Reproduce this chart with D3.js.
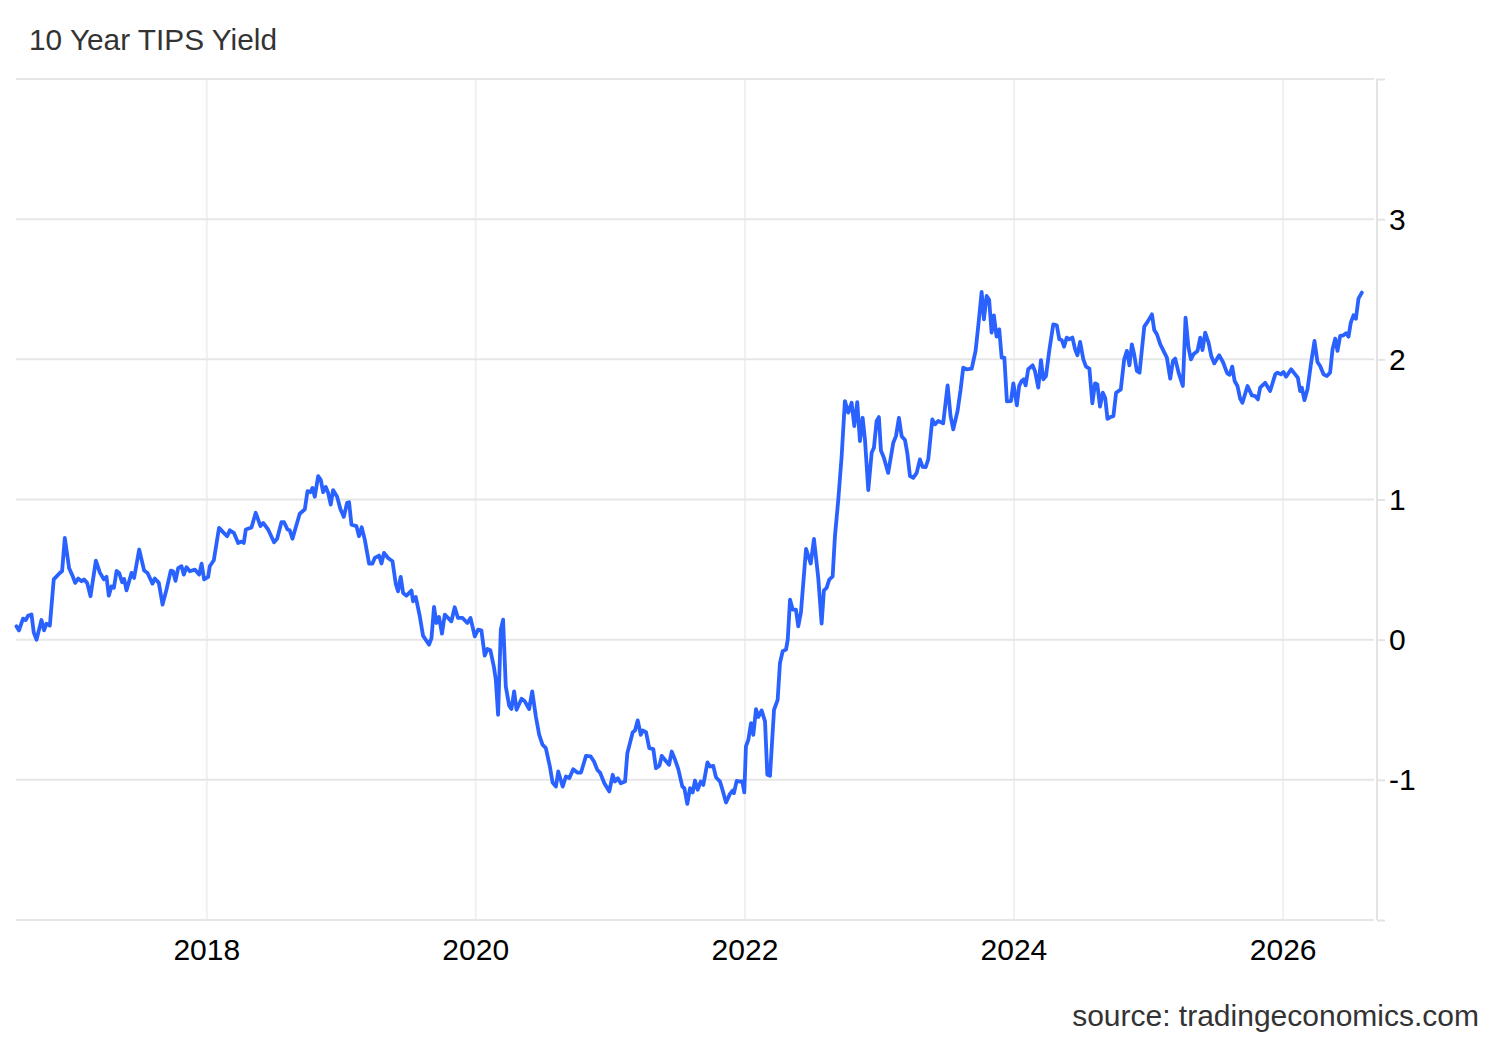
<!DOCTYPE html>
<html>
<head>
<meta charset="utf-8">
<script src="https://cdn.jsdelivr.net/npm/d3@7"></script>
<style>
  body { margin: 0; background: #fff; }
  text { font-family: "Liberation Sans", Arial, sans-serif; }
</style>
</head>
<body>
<div id="chart"></div>
<script>
// 1: DATA
const chartTitle = "10 Year TIPS Yield";
const sourceText = "source: tradingeconomics.com";

// observation dates as decimal years
const dateYears = [
  2016.585, 2016.604, 2016.634, 2016.654, 2016.671, 2016.697, 2016.714, 2016.734, 2016.771, 2016.790,
  2016.808, 2016.833, 2016.862, 2016.907, 2016.924, 2016.944, 2016.976, 2017.001, 2017.021, 2017.043,
  2017.068, 2017.086, 2017.110, 2017.135, 2017.175, 2017.204, 2017.234, 2017.254, 2017.271, 2017.291,
  2017.309, 2017.329, 2017.348, 2017.370, 2017.385, 2017.403, 2017.440, 2017.459, 2017.497, 2017.534,
  2017.559, 2017.596, 2017.613, 2017.643, 2017.671, 2017.700, 2017.732, 2017.749, 2017.767, 2017.787,
  2017.812, 2017.829, 2017.849, 2017.874, 2017.911, 2017.943, 2017.961, 2017.980, 2018.010, 2018.022,
  2018.052, 2018.091, 2018.121, 2018.151, 2018.171, 2018.201, 2018.233, 2018.258, 2018.275, 2018.290,
  2018.332, 2018.364, 2018.399, 2018.419, 2018.456, 2018.500, 2018.523, 2018.555, 2018.575, 2018.600,
  2018.617, 2018.637, 2018.691, 2018.729, 2018.749, 2018.771, 2018.786, 2018.803, 2018.828, 2018.848,
  2018.865, 2018.885, 2018.902, 2018.922, 2018.939, 2018.969, 2018.994, 2019.019, 2019.043, 2019.058,
  2019.076, 2019.113, 2019.132, 2019.152, 2019.175, 2019.207, 2019.232, 2019.249, 2019.281, 2019.299,
  2019.318, 2019.348, 2019.381, 2019.405, 2019.422, 2019.442, 2019.460, 2019.485, 2019.522, 2019.534,
  2019.554, 2019.584, 2019.608, 2019.653, 2019.671, 2019.690, 2019.708, 2019.727, 2019.749, 2019.770,
  2019.819, 2019.844, 2019.868, 2019.901, 2019.938, 2019.961, 2019.993, 2020.017, 2020.042, 2020.067,
  2020.087, 2020.109, 2020.134, 2020.149, 2020.166, 2020.186, 2020.203, 2020.223, 2020.248, 2020.265,
  2020.285, 2020.303, 2020.340, 2020.364, 2020.396, 2020.419, 2020.446, 2020.471, 2020.496, 2020.520,
  2020.550, 2020.570, 2020.595, 2020.612, 2020.645, 2020.669, 2020.694, 2020.723, 2020.753, 2020.781,
  2020.818, 2020.853, 2020.877, 2020.902, 2020.922, 2020.954, 2020.991, 2021.016, 2021.033, 2021.054,
  2021.076, 2021.108, 2021.125, 2021.165, 2021.182, 2021.202, 2021.225, 2021.239, 2021.264, 2021.288,
  2021.318, 2021.338, 2021.363, 2021.381, 2021.410, 2021.435, 2021.455, 2021.480, 2021.504, 2021.534,
  2021.549, 2021.571, 2021.591, 2021.611, 2021.628, 2021.648, 2021.671, 2021.690, 2021.721, 2021.740,
  2021.764, 2021.784, 2021.814, 2021.834, 2021.859, 2021.888, 2021.909, 2021.918, 2021.938, 2021.963,
  2021.980, 2021.995, 2022.007, 2022.025, 2022.045, 2022.062, 2022.082, 2022.099, 2022.124, 2022.149,
  2022.166, 2022.186, 2022.216, 2022.243, 2022.260, 2022.280, 2022.305, 2022.318, 2022.335, 2022.355,
  2022.379, 2022.396, 2022.416, 2022.454, 2022.489, 2022.513, 2022.545, 2022.570, 2022.587, 2022.607,
  2022.627, 2022.652, 2022.669, 2022.694, 2022.719, 2022.743, 2022.768, 2022.793, 2022.813, 2022.835,
  2022.855, 2022.875, 2022.892, 2022.917, 2022.942, 2022.959, 2022.979, 2022.996, 2023.011, 2023.033,
  2023.065, 2023.103, 2023.123, 2023.145, 2023.165, 2023.190, 2023.207, 2023.227, 2023.251, 2023.277,
  2023.301, 2023.321, 2023.344, 2023.363, 2023.393, 2023.413, 2023.437, 2023.474, 2023.507, 2023.529,
  2023.549, 2023.581, 2023.604, 2023.623, 2023.648, 2023.686, 2023.715, 2023.735, 2023.760, 2023.777,
  2023.797, 2023.816, 2023.834, 2023.851, 2023.871, 2023.891, 2023.909, 2023.929, 2023.948, 2023.978,
  2023.996, 2024.022, 2024.039, 2024.057, 2024.074, 2024.087, 2024.106, 2024.139, 2024.156, 2024.181,
  2024.201, 2024.218, 2024.238, 2024.262, 2024.292, 2024.318, 2024.337, 2024.355, 2024.372, 2024.392,
  2024.411, 2024.434, 2024.454, 2024.471, 2024.491, 2024.515, 2024.535, 2024.560, 2024.582, 2024.602,
  2024.619, 2024.639, 2024.659, 2024.677, 2024.694, 2024.719, 2024.738, 2024.758, 2024.793, 2024.818,
  2024.838, 2024.857, 2024.875, 2024.892, 2024.912, 2024.932, 2024.967, 2024.991, 2025.024, 2025.041,
  2025.061, 2025.086, 2025.110, 2025.135, 2025.160, 2025.180, 2025.197, 2025.222, 2025.254, 2025.274,
  2025.296, 2025.314, 2025.333, 2025.363, 2025.383, 2025.400, 2025.420, 2025.445, 2025.465, 2025.487,
  2025.524, 2025.552, 2025.584, 2025.602, 2025.621, 2025.639, 2025.660, 2025.680, 2025.697, 2025.735,
  2025.767, 2025.792, 2025.812, 2025.829, 2025.866, 2025.903, 2025.941, 2025.958, 2025.983, 2026.002,
  2026.022, 2026.059, 2026.089, 2026.109, 2026.126, 2026.139, 2026.158, 2026.181, 2026.206, 2026.233,
  2026.255, 2026.275, 2026.300, 2026.325, 2026.349, 2026.367, 2026.387, 2026.404, 2026.424, 2026.448,
  2026.468, 2026.486, 2026.503, 2026.523, 2026.541, 2026.560, 2026.585
];

// yield in percent
const yieldVals = [
  0.095, 0.066, 0.15, 0.14, 0.17, 0.18, 0.05, 0.0, 0.14, 0.066,
  0.114, 0.10, 0.43, 0.476, 0.49, 0.726, 0.51, 0.457, 0.405, 0.436,
  0.417, 0.43, 0.405, 0.31, 0.564, 0.48, 0.43, 0.448, 0.314, 0.38,
  0.37, 0.49, 0.476, 0.41, 0.433, 0.352, 0.476, 0.44, 0.643, 0.493,
  0.476, 0.40, 0.436, 0.405, 0.25, 0.357, 0.493, 0.488, 0.42, 0.51,
  0.524, 0.464, 0.517, 0.488, 0.50, 0.464, 0.543, 0.43, 0.448, 0.524,
  0.567, 0.798, 0.767, 0.738, 0.78, 0.762, 0.69, 0.70, 0.69, 0.786,
  0.80, 0.905, 0.81, 0.833, 0.786, 0.695, 0.72, 0.838, 0.838, 0.786,
  0.78, 0.72, 0.898, 0.93, 1.06, 1.052, 1.083, 1.02, 1.167, 1.138,
  1.052, 1.09, 1.048, 0.964, 1.067, 1.02, 0.93, 0.876, 0.976, 0.98,
  0.82, 0.81, 0.738, 0.802, 0.714, 0.543, 0.543, 0.583, 0.60, 0.543,
  0.619, 0.583, 0.56, 0.40, 0.345, 0.448, 0.333, 0.314, 0.35, 0.274,
  0.305, 0.167, 0.029, -0.036, 0.012, 0.233, 0.119, 0.162, 0.043, 0.179,
  0.131, 0.231, 0.155, 0.155, 0.119, 0.155, 0.024, 0.071, 0.067, -0.114,
  -0.067, -0.076, -0.19, -0.286, -0.536, 0.071, 0.143, -0.333, -0.471, -0.495,
  -0.369, -0.50, -0.421, -0.44, -0.495, -0.369, -0.548, -0.679, -0.75, -0.774,
  -0.905, -1.019, -1.048, -0.94, -1.048, -0.976, -0.988, -0.924, -0.948, -0.948,
  -0.829, -0.833, -0.869, -0.929, -0.948, -1.024, -1.083, -0.964, -1.012, -0.988,
  -1.024, -1.012, -0.81, -0.66, -0.648, -0.576, -0.679, -0.648, -0.66, -0.774,
  -0.781, -0.917, -0.90, -0.829, -0.864, -0.893, -0.798, -0.857, -0.924, -1.048,
  -1.06, -1.171, -1.06, -1.09, -1.005, -1.071, -1.012, -1.036, -0.876, -0.905,
  -0.90, -0.981, -1.012, -1.076, -1.162, -1.10, -1.076, -1.095, -1.007, -1.012,
  -1.012, -1.09, -0.762, -0.714, -0.595, -0.679, -0.495, -0.552, -0.505, -0.583,
  -0.964, -0.971, -0.50, -0.429, -0.167, -0.083, -0.071, 0.0, 0.286, 0.214,
  0.214, 0.095, 0.195, 0.648, 0.543, 0.719, 0.44, 0.114, 0.352, 0.369,
  0.429, 0.452, 0.738, 1.0, 1.31, 1.702, 1.62, 1.69, 1.524, 1.695,
  1.417, 1.583, 1.43, 1.067, 1.333, 1.369, 1.56, 1.588, 1.35, 1.298,
  1.19, 1.405, 1.452, 1.583, 1.452, 1.424, 1.333, 1.167, 1.155, 1.19,
  1.286, 1.233, 1.231, 1.286, 1.571, 1.536, 1.56, 1.543, 1.814, 1.595,
  1.50, 1.631, 1.786, 1.94, 1.929, 1.933, 2.06, 2.238, 2.481, 2.286,
  2.452, 2.424, 2.19, 2.314, 2.162, 2.214, 2.012, 2.012, 1.70, 1.702,
  1.829, 1.672, 1.81, 1.845, 1.857, 1.814, 1.929, 1.957, 1.917, 1.798,
  1.995, 1.857, 1.881, 2.06, 2.25, 2.243, 2.143, 2.138, 2.09, 2.155,
  2.143, 2.155, 2.071, 2.029, 2.124, 2.0, 1.948, 1.933, 1.686, 1.829,
  1.821, 1.662, 1.762, 1.726, 1.576, 1.59, 1.595, 1.762, 1.786, 2.0,
  2.06, 1.957, 2.107, 2.036, 1.917, 1.905, 2.233, 2.267, 2.321, 2.21,
  2.179, 2.107, 2.06, 2.012, 1.862, 1.988, 2.005, 1.905, 1.81, 2.298,
  2.083, 2.0, 2.036, 2.06, 2.155, 2.066, 2.19, 2.119, 2.024, 1.971,
  2.029, 1.981, 1.90, 1.89, 1.948, 1.845, 1.81, 1.72, 1.69, 1.81,
  1.743, 1.738, 1.714, 1.798, 1.833, 1.774, 1.893, 1.905, 1.893, 1.91,
  1.876, 1.929, 1.893, 1.869, 1.774, 1.798, 1.709, 1.786, 1.964, 2.131,
  1.981, 1.952, 1.893, 1.881, 1.905, 2.071, 2.148, 2.06, 2.167, 2.171,
  2.186, 2.162, 2.262, 2.314, 2.29, 2.433, 2.476
];

const xTickYears = [2018, 2020, 2022, 2024, 2026];
const yGridValues = [-2, -1, 0, 1, 2, 3, 4];
const yTickLabels = [-1, 0, 1, 2, 3];

// 2: LAYOUT
const W = 1500, H = 1040;
const plot = { left: 16, right: 1376, top: 79, bottom: 920 };

const svg = d3.select("#chart")
    .append("svg")
    .attr("width", W)
    .attr("height", H)
    .style("display", "block");

svg.append("rect").attr("width", W).attr("height", H).attr("fill", "#fff");

// decimal year -> Date
function toDate(t) {
    const y = Math.floor(t);
    const a = new Date(y, 0, 1), b = new Date(y + 1, 0, 1);
    return new Date(+a + (t - y) * (b - a));
}

const data = dateYears.map((t, i) => ({ date: toDate(t), value: yieldVals[i] }));

// 3: SCALES
const x = d3.scaleTime()
    .domain([new Date(2016, 7, 1), new Date(2026, 8, 10)])
    .range([plot.left, plot.right]);

const y = d3.scaleLinear()
    .domain([-2, 4])
    .range([plot.bottom, plot.top]);

// 4: GRID
// vertical year lines (light blue-grey)
svg.append("g")
    .selectAll("line")
    .data(xTickYears)
    .enter().append("line")
    .attr("x1", d => x(new Date(d, 0, 1)))
    .attr("x2", d => x(new Date(d, 0, 1)))
    .attr("y1", plot.top)
    .attr("y2", plot.bottom)
    .attr("stroke", "#edf0f5")
    .attr("stroke-width", 2);

// horizontal lines
svg.append("g")
    .selectAll("line")
    .data(yGridValues)
    .enter().append("line")
    .attr("x1", plot.left)
    .attr("x2", plot.right - 2)
    .attr("y1", d => y(d))
    .attr("y2", d => y(d))
    .attr("stroke", "#e6e6e6")
    .attr("stroke-width", 2);

// 5: AXES
// right axis: line + outward ticks, labels only for -1..3
const yAxis = svg.append("g")
    .attr("transform", `translate(${plot.right + 1},0)`)
    .call(d3.axisRight(y).tickValues(yGridValues).tickSize(8).tickFormat(""));
yAxis.select(".domain").attr("stroke", "#e3e3e3").attr("stroke-width", 2)
    .attr("d", `M0,${plot.top}V${plot.bottom}`);
yAxis.selectAll(".tick line").attr("stroke", "#e3e3e3").attr("stroke-width", 2);

svg.append("g")
    .selectAll("text")
    .data(yTickLabels)
    .enter().append("text")
    .attr("x", 1389)
    .attr("y", d => y(d))
    .attr("dy", "0.35em")
    .attr("font-size", 30)
    .attr("fill", "#000")
    .text(d => d);

// bottom axis labels
svg.append("g")
    .selectAll("text")
    .data(xTickYears)
    .enter().append("text")
    .attr("x", d => x(new Date(d, 0, 1)))
    .attr("y", 960)
    .attr("text-anchor", "middle")
    .attr("font-size", 30)
    .attr("fill", "#000")
    .text(d => d);

// 6: LINE
const line = d3.line()
    .x(d => x(d.date))
    .y(d => y(d.value));

svg.append("path")
    .datum(data)
    .attr("d", line)
    .attr("fill", "none")
    .attr("stroke", "#2962ff")
    .attr("stroke-width", 3.8)
    .attr("stroke-linejoin", "round")
    .attr("stroke-linecap", "round");

// 7: LABELS
svg.append("text")
    .attr("x", 29)
    .attr("y", 50)
    .attr("font-size", 29.8)
    .attr("fill", "#333")
    .text(chartTitle);

svg.append("text")
    .attr("x", 1479)
    .attr("y", 1026)
    .attr("text-anchor", "end")
    .attr("font-size", 30)
    .attr("fill", "#333")
    .text(sourceText);
</script>
</body>
</html>
